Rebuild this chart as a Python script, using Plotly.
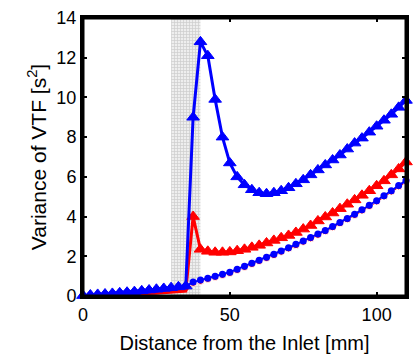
import plotly.graph_objects as go

# Distance from the inlet [mm]
x = [0, 2.5, 5, 7.5, 10, 12.5, 15, 17.5, 20, 22.5, 25, 27.5, 30, 32.5, 35,
     37.5, 40, 42.5, 45, 47.5, 50, 52.5, 55, 57.5, 60, 62.5, 65, 67.5, 70, 72.5,
     75, 77.5, 80, 82.5, 85, 87.5, 90, 92.5, 95, 97.5, 100, 102.5, 105, 107.5, 110]

# Blue triangles
blue_tri = [0.02, 0.05, 0.08, 0.1, 0.13, 0.16, 0.19, 0.22, 0.26, 0.3, 0.34, 0.38, 0.42, 0.46, 0.5,
            9.0, 12.8, 12.1, 9.9, 8.0, 6.7, 6.0, 5.6, 5.35, 5.2,
            5.15, 5.2, 5.3, 5.45, 5.65, 5.85, 6.1, 6.35, 6.6, 6.85,
            7.1, 7.4, 7.7, 7.95, 8.25, 8.55, 8.85, 9.15, 9.5, 9.85]

# Red triangles
red_tri = [0.0, 0.0, 0.01, 0.02, 0.03, 0.05, 0.06, 0.08, 0.1, 0.12, 0.14, 0.16, 0.19, 0.22, 0.25,
           4.0, 2.35, 2.25, 2.2, 2.2, 2.22, 2.28, 2.35, 2.45, 2.55,
           2.67, 2.8, 2.93, 3.05, 3.2, 3.37, 3.55, 3.78, 3.98, 4.18,
           4.4, 4.62, 4.84, 5.07, 5.3, 5.55, 5.8, 6.1, 6.4, 6.75]

# Blue circles
blue_circ = [0.02, 0.05, 0.08, 0.1, 0.13, 0.16, 0.19, 0.22, 0.26, 0.3, 0.34, 0.38, 0.42, 0.46, 0.5,
             0.7, 0.8, 0.9, 1.0, 1.1, 1.2, 1.35, 1.5, 1.65, 1.8,
             1.95, 2.1, 2.27, 2.43, 2.6, 2.77, 2.94, 3.12, 3.3, 3.5,
             3.7, 3.9, 4.12, 4.34, 4.57, 4.8, 5.05, 5.3, 5.56, 5.82]

# Red circles
red_circ = [0.0, 0.0, 0.01, 0.02, 0.03, 0.05, 0.06, 0.08, 0.1, 0.12, 0.14, 0.16, 0.19, 0.22, 0.25,
            0.66, 0.76, 0.86, 0.96, 1.06, 1.16, 1.31, 1.46, 1.61, 1.76,
            1.91, 2.06, 2.23, 2.39, 2.56, 2.73, 2.9, 3.08, 3.26, 3.46,
            3.66, 3.86, 4.08, 4.3, 4.53, 4.76, 5.01, 5.26, 5.52, 5.78]

# Shaded region (inlet section) [mm]
shade_start = 30
shade_end = 40
y_max = 14

x_ticks = [0, 50, 100]
y_ticks = [0, 2, 4, 6, 8, 10, 12, 14]

BLUE = "#0000ff"
RED = "#ff0000"
FONT = "Liberation Sans"

red_tri_sizes = [0 if xi <= 35 else 11 for xi in x]
red_circ_sizes = [0 if xi <= 35 else 7 for xi in x]

fig = go.Figure()

# textured shaded band
fig.add_trace(go.Scatter(
    x=[shade_start, shade_end, shade_end, shade_start, shade_start],
    y=[0, 0, y_max, y_max, 0],
    mode="lines", fill="toself", line=dict(width=0), fillcolor="#e6e6e6",
    fillpattern=dict(shape="+", fgcolor="#a9a9a9", bgcolor="#eeeeee", size=3, solidity=0.4),
    hoverinfo="skip"))

fig.add_trace(go.Scatter(x=x, y=red_circ, mode="lines+markers", cliponaxis=False,
                         line=dict(color=RED, width=2),
                         marker=dict(symbol="circle", size=red_circ_sizes, color=RED, opacity=1)))
fig.add_trace(go.Scatter(x=x, y=red_tri, mode="lines+markers", cliponaxis=False,
                         line=dict(color=RED, width=3),
                         marker=dict(symbol="triangle-up", size=red_tri_sizes, color=RED, opacity=1,
                                     line=dict(color=RED, width=1))))
fig.add_trace(go.Scatter(x=x, y=blue_circ, mode="lines+markers", cliponaxis=False,
                         line=dict(color=BLUE, width=2),
                         marker=dict(symbol="circle", size=7, color=BLUE, opacity=1)))
fig.add_trace(go.Scatter(x=x, y=blue_tri, mode="lines+markers", cliponaxis=False,
                         line=dict(color=BLUE, width=3),
                         marker=dict(symbol="triangle-up", size=11, color=BLUE, opacity=1,
                                     line=dict(color=BLUE, width=1))))

# frame around the plot area
fig.add_shape(type="rect", xref="paper", yref="paper", x0=0, x1=1, y0=0, y1=1,
              line=dict(color="black", width=3), layer="above")

axis_common = dict(showline=True, linewidth=3, linecolor="black", mirror="ticks",
                   ticks="inside", ticklen=4, tickwidth=1.5, tickcolor="black",
                   showgrid=False, zeroline=False, automargin=False,
                   tickfont=dict(family=FONT, size=18, color="black"))

fig.update_layout(
    width=416, height=354,
    margin=dict(l=83, r=10, t=18, b=58),
    paper_bgcolor="white", plot_bgcolor="white",
    showlegend=False,
    font=dict(family=FONT, color="black"),
    xaxis=dict(range=[0, 110], tickvals=x_ticks,
               title=dict(text="Distance from the Inlet [mm]", font=dict(family=FONT, size=20), standoff=13),
               **axis_common),
    yaxis=dict(range=[0, 14], tickvals=y_ticks,
               title=dict(text="Variance of VTF [s<sup>2</sup>]", font=dict(family=FONT, size=21), standoff=5),
               **axis_common),
)

fig.write_html("out.html", config={"displayModeBar": False},
               post_script="document.body.style.margin='0';document.body.style.padding='0';")
